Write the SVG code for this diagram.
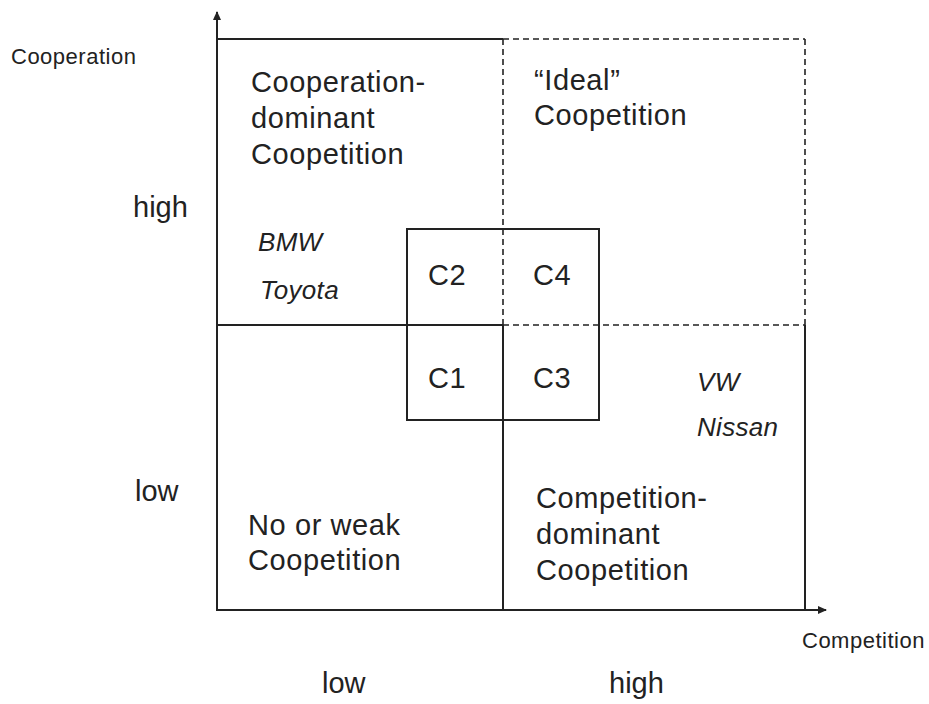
<svg xmlns="http://www.w3.org/2000/svg" width="929" height="704" viewBox="0 0 929 704">
<style>
text{font-family:"Liberation Sans",Arial,sans-serif;fill:#222}
.q{font-size:29px;letter-spacing:0.6px}
.ax{font-size:29px}
.sm{font-size:22px;letter-spacing:0.5px}
.it{font-size:26px;font-style:italic;letter-spacing:0.3px}
.s{stroke:#222;stroke-width:2;fill:none}
.d{stroke:#222;stroke-width:1.6;fill:none;stroke-dasharray:6,4}
</style>
<defs>
<marker id="ah" markerWidth="10" markerHeight="10" refX="8" refY="5" orient="auto" markerUnits="userSpaceOnUse">
<path d="M0,1 L9,5 L0,9 Z" fill="#222"/>
</marker>
</defs>
<rect width="929" height="704" fill="#fff"/>
<g id="connectors">
<line class="s" x1="217" y1="611" x2="217" y2="12" marker-end="url(#ah)"/>
<line class="s" x1="216" y1="610" x2="826" y2="610" marker-end="url(#ah)"/>
<line class="s" x1="217" y1="39" x2="503" y2="39"/>
<line class="d" x1="503" y1="39" x2="805" y2="39"/>
<line class="d" x1="805" y1="39" x2="805" y2="325"/>
<line class="d" x1="503" y1="39" x2="503" y2="325"/>
<line class="s" x1="217" y1="325" x2="503" y2="325"/>
<line class="d" x1="503" y1="325" x2="805" y2="325"/>
<line class="s" x1="503" y1="325" x2="503" y2="610"/>
<line class="s" x1="805" y1="325" x2="805" y2="610"/>
<rect class="s" x="407" y="229" width="192" height="191"/>
</g>
<g id="axis-labels">
<text class="sm" x="11" y="64">Cooperation</text>
<text class="sm" x="802" y="648">Competition</text>
<text class="ax" x="133" y="217">high</text>
<text class="ax" x="135" y="501">low</text>
<text class="ax" x="322" y="693">low</text>
<text class="ax" x="609" y="693">high</text>
</g>
<g id="q-coop">
<text class="q" x="251" y="92">Cooperation-</text>
<text class="q" x="251" y="128">dominant</text>
<text class="q" x="251" y="164">Coopetition</text>
</g>
<g id="q-ideal">
<text class="q" x="534" y="90">“Ideal”</text>
<text class="q" x="534" y="125">Coopetition</text>
</g>
<g id="q-weak">
<text class="q" x="248" y="535">No or weak</text>
<text class="q" x="248" y="570">Coopetition</text>
</g>
<g id="q-comp">
<text class="q" x="536" y="508">Competition-</text>
<text class="q" x="536" y="544">dominant</text>
<text class="q" x="536" y="580">Coopetition</text>
</g>
<g id="firms-left">
<text class="it" x="258" y="251">BMW</text>
<text class="it" x="260" y="299">Toyota</text>
</g>
<g id="firms-right">
<text class="it" x="697" y="391">VW</text>
<text class="it" x="697" y="436">Nissan</text>
</g>
<g id="cells">
<text class="q" x="428" y="285">C2</text>
<text class="q" x="533" y="285">C4</text>
<text class="q" x="428" y="388">C1</text>
<text class="q" x="533" y="388">C3</text>
</g>
</svg>
